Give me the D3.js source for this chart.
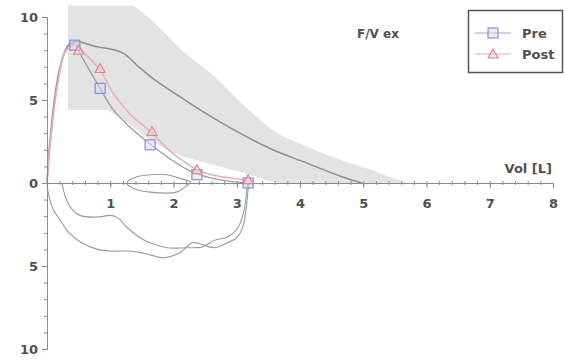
<!DOCTYPE html>
<html>
<head>
<meta charset="utf-8">
<script src="https://cdn.jsdelivr.net/npm/d3@7"></script>
<style>
    body { margin: 0; background: #fff; }
    text { font-family: "DejaVu Sans", Verdana, sans-serif; font-weight: bold; }
</style>
</head>
<body>
<svg id="chart" width="564" height="361"></svg>
<script>
// tick values
var xTickValues = [1, 2, 3, 4, 5, 6, 7, 8];
var yTickValues = [-10, -5, 0, 5, 10];

// predicted range (grey band) [volume L, flow L/s]
var bandUpper = [[0.33, 10.7], [1.36, 10.7], [1.63, 9.9], [1.87, 9.0], [2.10, 8.1], [2.62, 6.5], [3.05, 4.9],
    [3.37, 3.8], [3.6, 3.1], [4.11, 2.2], [4.63, 1.4], [5.16, 0.75], [5.5, 0.25], [5.69, 0]];
var bandLower = [[0.33, 4.4], [0.96, 4.4], [1.36, 3.4], [1.63, 2.6], [1.9, 2.0], [2.42, 1.3], [2.94, 0.8],
    [3.2, 0.5], [3.45, 0.2], [3.65, 0]];

// predicted curve
var predicted = [[0, 0], [0.36, 8.4], [0.8, 8.2], [1.19, 7.85], [1.45, 7.0], [1.71, 6.2], [2.1, 5.2], [2.42, 4.4],
    [3.05, 3.0], [3.57, 2.0], [4.11, 1.2], [4.63, 0.42], [4.98, 0]];

// measured expiratory curves
var preCurve = [[0, 0], [0.04, 2.0], [0.15, 5.6], [0.28, 7.8], [0.42, 8.4], [0.55, 7.6], [0.7, 6.6], [0.84, 5.7],
    [1.05, 4.4], [1.3, 3.4], [1.63, 2.35], [1.95, 1.45], [2.2, 0.85], [2.37, 0.55], [2.6, 0.3], [2.9, 0.1], [3.18, 0]];
var postCurve = [[0, 0], [0.05, 2.3], [0.17, 6.0], [0.3, 8.0], [0.45, 8.3], [0.6, 7.8], [0.84, 6.8], [1.05, 5.4],
    [1.3, 4.2], [1.66, 3.0], [1.95, 1.9], [2.2, 1.2], [2.37, 0.8], [2.6, 0.5], [2.9, 0.3], [3.18, 0.15]];

// inspiratory curves (negative flow)
var inspA = [[0, 0], [0.02, -0.6], [0.1, -1.6], [0.2, -2.2], [0.35, -3.0], [0.55, -3.6], [0.8, -4.0], [1.0, -4.1],
    [1.3, -4.1], [1.55, -4.25], [1.85, -4.5], [2.1, -4.2], [2.3, -3.6], [2.45, -3.7], [2.65, -3.9], [2.85, -3.6],
    [3.0, -3.3], [3.1, -2.6], [3.15, -1.5], [3.18, -0.3], [3.18, 0]];
var inspB = [[0.24, 0], [0.28, -0.7], [0.37, -1.45], [0.52, -1.95], [0.8, -2.05], [1.0, -1.95], [1.12, -2.1],
    [1.26, -2.65], [1.47, -3.3], [1.63, -3.6], [1.9, -3.9], [2.2, -3.9], [2.45, -3.85], [2.65, -3.45], [2.85, -3.25],
    [3.0, -2.8], [3.1, -1.9], [3.15, -0.8], [3.17, 0]];
var tidalLoop = [[1.26, 0], [1.4, 0.35], [1.63, 0.5], [1.9, 0.5], [2.1, 0.28], [2.27, 0.05], [2.18, -0.25],
    [2.05, -0.55], [1.63, -0.55], [1.38, -0.35]];

// markers
var preMarkers = [[0.44, 8.3], [0.84, 5.7], [1.63, 2.3], [2.37, 0.5], [3.18, 0.0]];
var postMarkers = [[0.5, 8.0], [0.84, 6.9], [1.66, 3.1], [2.37, 0.8], [3.18, 0.2]];

var svg = d3.select("#chart");

var xScale = d3.scaleLinear().domain([0, 8]).range([47, 553]);
var yScale = d3.scaleLinear().domain([-10, 10]).range([349, 17]);

var line = d3.line()
    .x(function (d) { return xScale(d[0]); })
    .y(function (d) { return yScale(d[1]); })
    .curve(d3.curveCatmullRom); // smooth through the read points

var straight = d3.line()
    .x(function (d) { return xScale(d[0]); })
    .y(function (d) { return yScale(d[1]); });

var smoothEdge = d3.line()
    .x(function (d) { return xScale(d[0]); })
    .y(function (d) { return yScale(d[1]); })
    .curve(d3.curveMonotoneX);

// band: smooth upper edge, then smooth lower edge back, closed at the left
var upperPath = smoothEdge(bandUpper.slice(1));
var lowerPath = smoothEdge(bandLower.slice(1).reverse());
svg.append("path")
    .attr("d", straight([bandUpper[0]]) + "L" + upperPath.substring(1) + "L" + lowerPath.substring(1)
        + "L" + xScale(bandLower[0][0]) + "," + yScale(bandLower[0][1]) + "Z")
    .attr("fill", "#e3e3e3")
    .attr("stroke", "none");

svg.append("path")
    .attr("d", line(predicted))
    .attr("fill", "none")
    .attr("stroke", "#8e8e8e")
    .attr("stroke-width", 1.5);

// inspiratory + tidal
[inspA, inspB].forEach(function (c)
{
    svg.append("path")
        .attr("d", line(c))
        .attr("fill", "none")
        .attr("stroke", "#9a9a9a")
        .attr("stroke-width", 1.1);
});
svg.append("path")
    .attr("d", d3.line()
        .x(function (d) { return xScale(d[0]); })
        .y(function (d) { return yScale(d[1]); })
        .curve(d3.curveCatmullRomClosed)(tidalLoop))
    .attr("fill", "none")
    .attr("stroke", "#9a9a9a")
    .attr("stroke-width", 1.1);

// expiratory curves
svg.append("path")
    .attr("d", line(preCurve))
    .attr("fill", "none")
    .attr("stroke", "#9c9cae")
    .attr("stroke-width", 1.3);
svg.append("path")
    .attr("d", line(postCurve))
    .attr("fill", "none")
    .attr("stroke", "#eab0b8")
    .attr("stroke-width", 1.6);

// axes
var axisColor = "#8a8a8a";
function styleAxis(g)
{
    g.select(".domain").attr("stroke", axisColor);
    g.selectAll(".tick line").attr("stroke", axisColor);
    g.selectAll(".tick text").attr("fill", "#505050").style("font-size", "13px")
        .style("font-family", "'DejaVu Sans', Verdana, sans-serif").style("font-weight", "bold");
}

svg.append("g")
    .attr("transform", "translate(0," + yScale(0) + ")")
    .call(d3.axisBottom(xScale).tickValues(d3.range(1, 40).map(function (i) { return i * 0.2; }))
        .tickSize(2).tickFormat(""))
    .call(styleAxis)
    .selectAll(".tick line").attr("y1", -2);

svg.append("g")
    .attr("transform", "translate(0," + yScale(0) + ")")
    .call(d3.axisBottom(xScale).tickValues(xTickValues).tickSize(5).tickPadding(11).tickSizeOuter(0))
    .call(styleAxis);

svg.append("g")
    .attr("transform", "translate(" + xScale(0) + ",0)")
    .call(d3.axisLeft(yScale).tickValues(d3.range(-10, 11, 1)).tickSize(3).tickFormat(""))
    .call(styleAxis);

svg.append("g")
    .attr("transform", "translate(" + xScale(0) + ",0)")
    .call(d3.axisLeft(yScale).tickValues(yTickValues).tickSize(5).tickPadding(4).tickSizeOuter(0)
        .tickFormat(function (d) { return Math.abs(d); }))
    .call(styleAxis);

// markers
function square(g, cx, cy)
{
    g.append("rect")
        .attr("x", cx - 5).attr("y", cy - 5)
        .attr("width", 10).attr("height", 10)
        .attr("fill", "#dcdcf4").attr("fill-opacity", 0.5)
        .attr("stroke", "#8d8dd2").attr("stroke-width", 1.2);
}
function triangle(g, cx, cy)
{
    g.append("path")
        .attr("d", "M" + cx + "," + (cy - 5) + "L" + (cx + 5) + "," + (cy + 4) + "L" + (cx - 5) + "," + (cy + 4) + "Z")
        .attr("fill", "#f6d0d6").attr("fill-opacity", 0.5)
        .attr("stroke", "#e0808e").attr("stroke-width", 1.1);
}
var markerG = svg.append("g");
preMarkers.forEach(function (d) { square(markerG, xScale(d[0]), yScale(d[1])); });
postMarkers.forEach(function (d) { triangle(markerG, xScale(d[0]), yScale(d[1])); });

// labels
svg.append("text")
    .attr("x", 552).attr("y", 173)
    .attr("text-anchor", "end")
    .attr("fill", "#505050")
    .style("font-size", "13px")
    .text("Vol [L]");

svg.append("text")
    .attr("x", 357).attr("y", 38)
    .attr("fill", "#505050")
    .style("font-size", "12px")
    .text("F/V ex");

// legend
var legend = svg.append("g");
legend.append("rect")
    .attr("x", 468.5).attr("y", 10.5)
    .attr("width", 94).attr("height", 62)
    .attr("fill", "#fff")
    .attr("stroke", "#555").attr("stroke-width", 1.5);
legend.append("line")
    .attr("x1", 475).attr("x2", 511).attr("y1", 33).attr("y2", 33)
    .attr("stroke", "#a4a4bc").attr("stroke-width", 1.2);
square(legend, 493, 33);
legend.append("line")
    .attr("x1", 475).attr("x2", 511).attr("y1", 54).attr("y2", 54)
    .attr("stroke", "#eab0b8").attr("stroke-width", 1.2);
triangle(legend, 493, 54);
legend.append("text").attr("x", 522).attr("y", 38).attr("fill", "#505050").style("font-size", "13px").text("Pre");
legend.append("text").attr("x", 522).attr("y", 59).attr("fill", "#505050").style("font-size", "13px").text("Post");
</script>
</body>
</html>
